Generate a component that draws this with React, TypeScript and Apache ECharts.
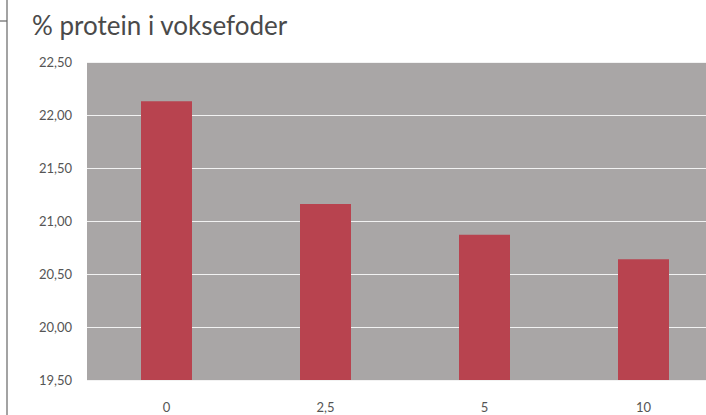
import React, { useEffect, useRef } from "react";
import * as echarts from "echarts";

const categories = ["0", "2,5", "5", "10"];
const proteinValues = [22.13, 21.16, 20.87, 20.64];
const titleText = "% protein i voksefoder";

export default function App() {
  const ref = useRef<HTMLDivElement>(null);
  useEffect(() => {
    if (!ref.current) return;
    const chart = echarts.init(ref.current, undefined, { renderer: "svg" });
    chart.setOption({
      animation: false,
      backgroundColor: "#ffffff",
      title: {
        text: titleText,
        left: 27,
        top: 7,
        textStyle: {
          fontFamily: "Lato",
          fontWeight: "normal",
          fontSize: 26,
          color: "#4a4a4a",
        },
      },
      grid: {
        left: 87,
        top: 62,
        width: 636,
        bottom: 35,
        show: true,
        backgroundColor: "#a9a6a6",
        borderWidth: 0,
      },
      xAxis: {
        type: "category",
        data: categories,
        axisLine: { show: false },
        axisTick: { show: false },
        axisLabel: {
          color: "#555555",
          fontFamily: "Lato",
          fontSize: 13,
          margin: 20,
        },
      },
      yAxis: {
        type: "value",
        min: 19.5,
        max: 22.5,
        interval: 0.5,
        axisLine: { show: false },
        axisTick: { show: false },
        splitLine: { show: true, lineStyle: { color: "#f2f2f2", width: 1 } },
        axisLabel: {
          color: "#555555",
          fontFamily: "Lato",
          fontSize: 13,
          margin: 15,
          formatter: (v: number) => v.toFixed(2).replace(".", ","),
        },
      },
      series: [
        {
          type: "bar",
          data: proteinValues,
          barWidth: 51,
          itemStyle: { color: "#b8434f" },
        },
      ],
      graphic: [
        {
          type: "line",
          shape: { x1: 7, y1: 0, x2: 7, y2: 415 },
          style: { stroke: "#666666", lineWidth: 1.2 },
        },
        {
          type: "line",
          shape: { x1: 0, y1: 21, x2: 7, y2: 21 },
          style: { stroke: "#666666", lineWidth: 1.2 },
        },
      ],
    });
    return () => chart.dispose();
  }, []);
  return (
    <div
      style={{
        position: "fixed",
        left: 0,
        top: 0,
        width: 706,
        height: 415,
        overflow: "hidden",
      }}
    >
      <div ref={ref} style={{ width: 740, height: 415 }} />
    </div>
  );
}
